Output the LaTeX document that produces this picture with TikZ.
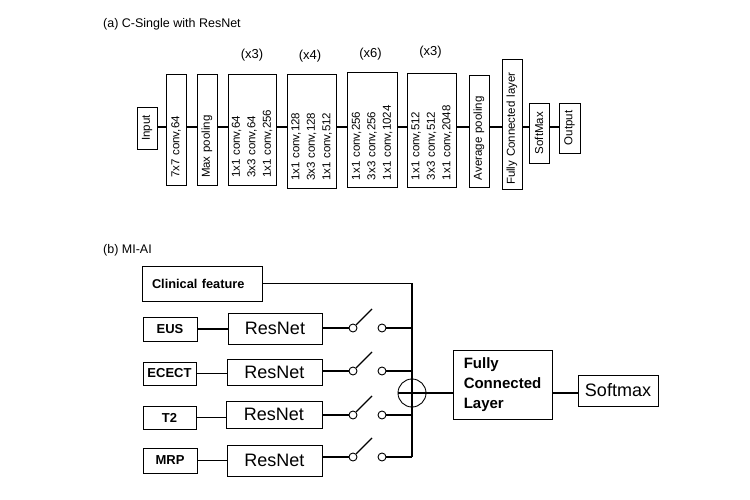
\documentclass[tikz,border=0pt]{standalone}
\usepackage{fontspec}
\setmainfont{Liberation Sans}
\begin{document}
\begin{tikzpicture}[x=1pt,y=-1pt,
  vbox/.style={draw, line width=0.9pt, rotate=90, inner xsep=7pt, inner ysep=2pt,
    font=\fontsize{11.5}{15.5}\selectfont, align=left},
  conn/.style={line width=1.8pt},
  bbox/.style={draw, line width=0.9pt, inner sep=0pt},
  wire/.style={line width=1.1pt},
  inbox/.style={bbox, font=\bfseries\fontsize{13}{15}\selectfont},
  resbox/.style={bbox, font=\fontsize{18}{20}\selectfont},
  swc/.style={draw, circle, line width=0.9pt, minimum size=8pt, inner sep=0pt},
  mult/.style={font=\fontsize{13}{15}\selectfont, inner sep=0pt},
  ttl/.style={anchor=west, font=\fontsize{12.5}{15}\selectfont, inner sep=0pt}
]
\useasboundingbox (0,0) rectangle (750,500);

% ---------- (a) ----------
\node[ttl] (ta) at (103,24.5) {(a) C-Single with ResNet};

\node[vbox, align=center, text width=28pt, minimum height=20pt] (in) at (147,128) {Input};
\node[vbox, text width=97pt, minimum height=20pt] (c7) at (176,129.5) {7x7 conv,64};
\node[vbox, text width=97pt, minimum height=20pt] (mp) at (207,129.5) {Max pooling};
\node[vbox, text width=97pt, minimum height=48pt] (b1) at (252,129.5) {1x1 conv,64\\3x3 conv,64\\1x1 conv,256};
\node[vbox, text width=100pt, minimum height=49pt] (b2) at (311.5,131) {1x1 conv,128\\3x3 conv,128\\1x1 conv,512};
\node[vbox, text width=101pt, minimum height=50pt] (b3) at (372,129.5) {1x1 conv,256\\3x3 conv,256\\1x1 conv,1024};
\node[vbox, text width=100pt, minimum height=49pt] (b4) at (431.5,130) {1x1 conv,512\\3x3 conv,512\\1x1 conv,2048};
\node[vbox, text width=98pt, minimum height=20pt] (ap) at (479,131) {Average pooling};
\node[vbox, inner xsep=4pt, text width=122pt, minimum height=20pt] (fcl) at (512,124) {Fully Connected layer};
\node[vbox, align=center, text width=46pt, minimum height=20pt] (smx) at (539,133) {SoftMax};
\node[vbox, align=center, text width=36pt, minimum height=21pt] (out) at (569.5,128) {Output};

\node[mult] (m1) at (252,55.5) {(x3)};
\node[mult] (m2) at (310,56) {(x4)};
\node[mult] (m3) at (370.5,54) {(x6)};
\node[mult] (m4) at (430.5,52.5) {(x3)};

\coordinate (lv) at (0,127);
\draw[conn] (in.south |- lv) -- (c7.north |- lv);
\draw[conn] (c7.south |- lv) -- (mp.north |- lv);
\draw[conn] (mp.south |- lv) -- (b1.north |- lv);
\draw[conn] (b1.south |- lv) -- (b2.north |- lv);
\draw[conn] (b2.south |- lv) -- (b3.north |- lv);
\draw[conn] (b3.south |- lv) -- (b4.north |- lv);
\draw[conn] (b4.south |- lv) -- (ap.north |- lv);
\draw[conn] (ap.south |- lv) -- (fcl.north |- lv);
\draw[conn] (fcl.south |- lv) -- (smx.north |- lv);
\draw[conn] (smx.south |- lv) -- (out.north |- lv);

% ---------- (b) ----------
\node[ttl] (tb) at (103,250) {(b) MI-AI};

\node[bbox, minimum width=120pt, minimum height=35pt, text width=100pt, align=left,
  font=\bfseries\fontsize{12.8}{15}\selectfont] (cf) at (202,283.5) {Clinical feature};

\node[inbox, minimum width=54pt, minimum height=24pt] (eus) at (170,329) {EUS};
\node[inbox, minimum width=53pt, minimum height=23pt] (ect) at (169.5,373.5) {ECECT};
\node[inbox, minimum width=53pt, minimum height=23pt] (t2) at (169.5,417.5) {T2};
\node[inbox, minimum width=54pt, minimum height=25pt] (mrp) at (170,460.5) {MRP};

\node[resbox, minimum width=94pt, minimum height=31pt] (r1) at (275,328.5) {ResNet};
\node[resbox, minimum width=95pt, minimum height=26pt] (r2) at (274.5,372) {ResNet};
\node[resbox, minimum width=96pt, minimum height=27pt] (r3) at (274,414.5) {ResNet};
\node[resbox, minimum width=95pt, minimum height=31pt] (r4) at (274.5,460.5) {ResNet};

\node[swc] (s1a) at (353,328) {};
\node[swc] (s1b) at (382,328) {};
\node[swc] (s2a) at (353,371) {};
\node[swc] (s2b) at (382,371) {};
\node[swc] (s3a) at (353,415) {};
\node[swc] (s3b) at (382,415) {};
\node[swc] (s4a) at (353,457) {};
\node[swc] (s4b) at (382,457) {};

\coordinate (l1) at (372,309);
\coordinate (l2) at (372,352);
\coordinate (l3) at (372,396);
\coordinate (l4) at (372,438);

\coordinate (bus) at (412,457);

\node[draw, circle, minimum size=28pt, inner sep=0pt, line width=0.9pt] (sum) at (412,393) {};

\node[bbox, minimum width=99pt, minimum height=69pt, align=left,
  font=\bfseries\fontsize{15}{20}\selectfont] (fc) at (502.5,384.5) {Fully\\Connected\\Layer};
\node[resbox, minimum width=80pt, minimum height=31pt] (sm) at (618,390.5) {Softmax};

% wires
\draw[wire] (eus.east) -- (eus.east -| r1.west);
\draw[wire] (ect.east) -- (ect.east -| r2.west);
\draw[wire] (t2.east) -- (t2.east -| r3.west);
\draw[wire] (mrp.east) -- (mrp.east -| r4.west);

\draw[wire] (r1.east |- s1a) -- (s1a.west);
\draw[wire] (r2.east |- s2a) -- (s2a.west);
\draw[wire] (r3.east |- s3a) -- (s3a.west);
\draw[wire] (r4.east |- s4a) -- (s4a.west);

\draw[wire] (s1a.45) -- (l1);
\draw[wire] (s2a.45) -- (l2);
\draw[wire] (s3a.45) -- (l3);
\draw[wire] (s4a.45) -- (l4);

\draw[wire] (s1b.east) -- (s1b.east -| bus);
\draw[wire] (s2b.east) -- (s2b.east -| bus);
\draw[wire] (s3b.east) -- (s3b.east -| bus);
\draw[wire] (s4b.east) -- (bus);

\draw[wire] (cf.east) -| (bus);
\draw[wire] (sum.west) -- (sum.east);
\draw[wire] (sum.east) -- (sum.east -| fc.west);
\draw[wire] (fc.east |- sum) -- (sm.west |- sum);
\end{tikzpicture}
\end{document}
